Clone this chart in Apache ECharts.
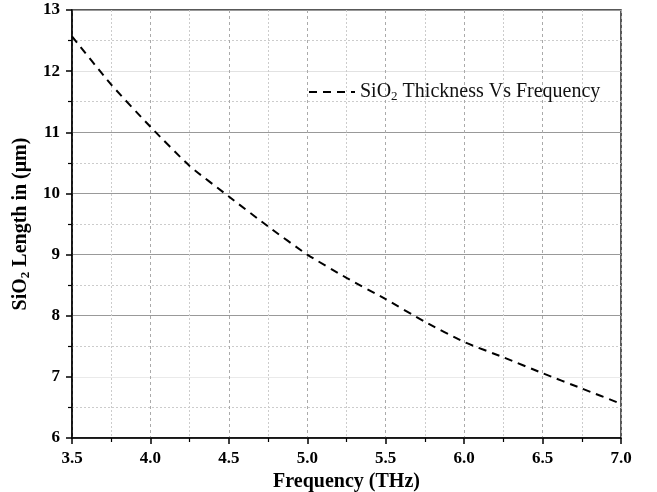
<!DOCTYPE html>
<html>
<head>
<meta charset="utf-8">
<script src="https://cdn.jsdelivr.net/npm/echarts@6/dist/echarts.min.js"></script>
<style>html,body{margin:0;padding:0;background:#fff}#c{width:657px;height:492px}</style>
</head>
<body>
<div id="c"></div>
<script>
const frequency = [3.5, 3.75, 4.0, 4.25, 4.5, 4.75, 5.0, 5.25, 5.5, 5.75, 6.0, 6.25, 6.5, 6.75, 7.0];
const thickness = [12.57, 11.78, 11.09, 10.45, 9.95, 9.46, 9.0, 8.62, 8.27, 7.90, 7.57, 7.32, 7.06, 6.81, 6.56];
const seriesName = 'SiO2 Thickness Vs Frequency';

const serif = '"Liberation Serif", "DejaVu Serif", serif';
const chart = echarts.init(document.getElementById('c'));
chart.setOption({
  animation: false,
  backgroundColor: '#fff',
  grid: { left: 72, right: 36, top: 10, bottom: 54, outerBoundsMode: 'none', containLabel: false, show: true, borderColor: '#222', borderWidth: 1.5, backgroundColor: 'transparent' },
  legend: {
    show: true,
    orient: 'horizontal',
    left: 303, top: 77,
    itemWidth: 46, itemHeight: 14, itemGap: 4,
    data: [seriesName],
    formatter: function () { return '{a|SiO}{s|2}{a| Thickness Vs Frequency}'; },
    itemStyle: { opacity: 0, color: 'transparent', borderWidth: 0 },
    lineStyle: { color: '#000', width: 2, type: [8, 6] },
    textStyle: {
      fontFamily: serif, fontSize: 20, color: '#111',
      rich: {
        a: { fontFamily: serif, fontSize: 20, color: '#111' },
        s: { fontFamily: serif, fontSize: 13, color: '#111', verticalAlign: 'bottom', padding: [10, 0, 0, 0] }
      }
    }
  },
  xAxis: {
    type: 'value', min: 3.5, max: 7.0, interval: 0.5,
    name: 'Frequency (THz)', nameLocation: 'middle', nameGap: 32,
    nameTextStyle: { fontFamily: serif, fontSize: 20, fontWeight: 'bold', color: '#000' },
    axisLine: { show: true, onZero: false, lineStyle: { color: '#000', width: 1.5 } },
    axisTick: { show: true, inside: false, length: 6, lineStyle: { color: '#000', width: 1.5 } },
    minorTick: { show: true, splitNumber: 2, length: 4, lineStyle: { color: '#000', width: 1.2 } },
    axisLabel: { fontFamily: serif, fontSize: 17, fontWeight: 'bold', color: '#000', margin: 12, formatter: v => v.toFixed(1) },
    splitLine: { show: true, lineStyle: { color: '#aaa', type: [3, 3], width: 1 } },
    minorSplitLine: { show: true, lineStyle: { color: '#ccc', type: [2, 2], width: 1 } }
  },
  yAxis: {
    type: 'value', min: 6, max: 13, interval: 1,
    name: '{a|SiO}{s|2}{a| Length in (μm)}', nameLocation: 'middle', nameGap: 40,
    nameTextStyle: {
      fontFamily: serif, fontSize: 20, fontWeight: 'bold', color: '#000',
      rich: {
        a: { fontFamily: serif, fontSize: 20, fontWeight: 'bold', color: '#000' },
        s: { fontFamily: serif, fontSize: 13, fontWeight: 'bold', color: '#000', verticalAlign: 'bottom', padding: [10, 0, 0, 0] }
      }
    },
    axisLine: { show: true, onZero: false, lineStyle: { color: '#000', width: 1.5 } },
    axisTick: { show: true, inside: false, length: 6, lineStyle: { color: '#000', width: 1.5 } },
    minorTick: { show: true, splitNumber: 2, length: 4, lineStyle: { color: '#000', width: 1.2 } },
    axisLabel: { fontFamily: serif, fontSize: 17, fontWeight: 'bold', color: '#000', margin: 12 },
    splitLine: { show: true, lineStyle: { color: ['#999', '#eaeaea', '#999', '#999', '#999', '#999', '#e2e2e2', '#999'], width: 1 } },
    minorSplitLine: { show: true, lineStyle: { color: '#ccc', type: [2, 2], width: 1 } }
  },
  series: [{
    name: seriesName,
    type: 'line',
    data: frequency.map((f, i) => [f, thickness[i]]),
    smooth: 0.2,
    showSymbol: false,
    symbol: 'none',
    itemStyle: { color: '#000' },
    lineStyle: { color: '#000', width: 2, type: [8, 6] }
  }]
});
</script>
</body>
</html>
